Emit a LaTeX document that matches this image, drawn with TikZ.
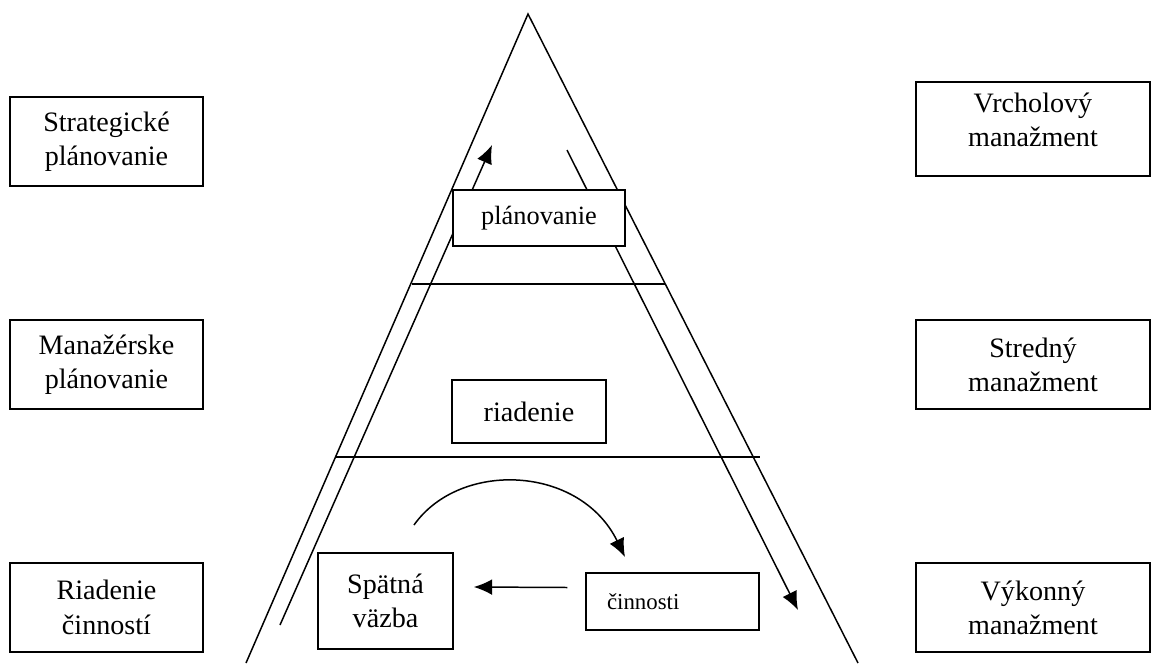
\documentclass[tikz,border=0pt]{standalone}
\usepackage{fontspec}
\setmainfont{Liberation Serif}
\usetikzlibrary{positioning,arrows.meta}

\begin{document}
\begin{tikzpicture}[x=0.02cm,y=-0.02cm,>={Latex[length=10.5pt,width=9pt]},line width=0.85pt,
  side/.style={draw,fill=white,minimum width=3.86cm,minimum height=1.78cm,align=center,inner sep=0pt,font=\fontsize{16}{19.5}\selectfont},
  level/.style={side,minimum width=4.68cm},
  inbox/.style={draw,fill=white,align=center,inner sep=0pt,font=\fontsize{16}{19.5}\selectfont}]
\useasboundingbox (0,0) rectangle (1153,663);
% pyramid
\coordinate (apex) at (528,14);
\coordinate (bl) at (246,663);
\coordinate (br) at (858,663);
\draw (bl) -- (apex) -- (br);
\draw (412,284) -- (665,284);
\draw (336,457) -- (760,457);
% feedback flows
\coordinate (upa) at (280,625);
\coordinate (upb) at (492,145);
\coordinate (dna) at (567,150);
\coordinate (dnb) at (798,610);
\draw[->] (upa) -- (upb);
\draw[->] (dna) -- (dnb);
% levels inside
\node[inbox,minimum width=3.44cm,minimum height=1.12cm,font=\fontsize{15}{18}\selectfont] (plan) at (539,218) {plánovanie};
\node[inbox,minimum width=3.08cm,minimum height=1.26cm] (ria) at (529,411.5) {riadenie};
\node[inbox,minimum width=2.7cm,minimum height=1.92cm] (spat) at (385.5,601) {Spätná\\väzba};
\node[inbox,text width=2.62cm,inner xsep=0.42cm,minimum height=1.14cm,align=left,font=\fontsize{13}{16}\selectfont] (cin) at (672.5,601.5) {činnosti};
\coordinate (cva) at (414,525);
\coordinate (cvb) at (625,557);
\draw[->] (cva) .. controls (460,460) and (580,465) .. (cvb);
\draw[->] ([shift={(-18,-14)}]cin.west) -- ([shift={(20,-14)}]spat.east);
% left labels
\node[side] (strat) at (106.5,141.5) {Strategické\\plánovanie};
\node[side] (manpl) at (106.5,364.5) {Manažérske\\plánovanie};
\node[side] (riac) at (106.5,607.5) {Riadenie\\činností};
% right labels
\node[level,minimum height=1.88cm,text depth=0.36cm] (vrch) at (1033,129) {Vrcholový\\manažment};
\node[level] (stred) at (1033,364.5) {Stredný\\manažment};
\node[level] (vyk) at (1033,607.5) {Výkonný\\manažment};
\end{tikzpicture}
\end{document}
